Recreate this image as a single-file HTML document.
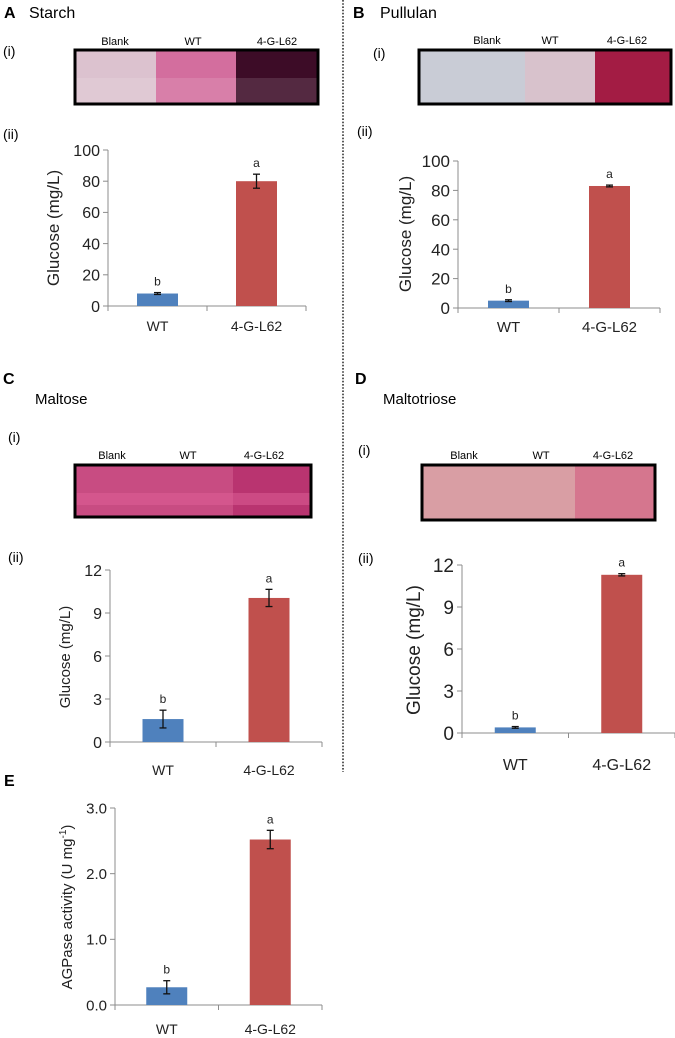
<!DOCTYPE html>
<html><head><meta charset="utf-8"><style>
html,body{margin:0;padding:0;background:#fff;}
svg{display:block;font-family:"Liberation Sans",sans-serif;}
</style></head><body>
<svg id="fig" width="675" height="1038" viewBox="0 0 675 1038" xmlns="http://www.w3.org/2000/svg">
<line x1="343" y1="0" x2="343" y2="772" stroke="#333" stroke-width="1.6" stroke-dasharray="1.6,1.6"/>
<!-- Panel A -->
<text x="4" y="18" font-size="16" font-weight="bold">A</text>
<text x="29" y="18" font-size="16">Starch</text>
<text x="3" y="56" font-size="14">(i)</text>
<text x="3" y="139" font-size="14">(ii)</text>
<g>
<text x="115" y="45" font-size="11" text-anchor="middle">Blank</text>
<text x="193" y="45" font-size="11" text-anchor="middle">WT</text>
<text x="277" y="45" font-size="11" text-anchor="middle">4-G-L62</text>
<rect x="75" y="50" width="81" height="54" fill="#dcc2cf"/>
<rect x="156" y="50" width="80" height="54" fill="#d36e9e"/>
<rect x="236" y="50" width="82" height="54" fill="#3d0c27"/>
<rect x="75" y="78" width="243" height="26" fill="#fff" opacity="0.12"/>
<rect x="75" y="50" width="243" height="54" fill="none" stroke="#000" stroke-width="3"/>
</g>
<!-- Panel B -->
<text x="353" y="18" font-size="16" font-weight="bold">B</text>
<text x="380" y="18" font-size="16">Pullulan</text>
<text x="373" y="58" font-size="14">(i)</text>
<text x="357" y="136" font-size="14">(ii)</text>
<g>
<text x="487" y="44" font-size="11" text-anchor="middle">Blank</text>
<text x="550" y="44" font-size="11" text-anchor="middle">WT</text>
<text x="627" y="44" font-size="11" text-anchor="middle">4-G-L62</text>
<rect x="419" y="50" width="106" height="54" fill="#c9ccd6"/>
<rect x="525" y="50" width="70" height="54" fill="#d8c2cc"/>
<rect x="595" y="50" width="76" height="54" fill="#a31c44"/>
<rect x="419" y="50" width="252" height="54" fill="none" stroke="#000" stroke-width="3"/>
</g>
<!-- Panel C -->
<text x="3" y="384" font-size="16" font-weight="bold">C</text>
<text x="35" y="404" font-size="15">Maltose</text>
<text x="8" y="442" font-size="14">(i)</text>
<text x="8" y="562" font-size="14">(ii)</text>
<g>
<text x="112" y="459" font-size="11" text-anchor="middle">Blank</text>
<text x="188" y="459" font-size="11" text-anchor="middle">WT</text>
<text x="264" y="459" font-size="11" text-anchor="middle">4-G-L62</text>
<rect x="75" y="465" width="236" height="52" fill="#c84c82"/>
<rect x="233" y="465" width="78" height="52" fill="#b93470"/>
<rect x="75" y="493" width="236" height="12" fill="#e06098" opacity="0.5"/>
<rect x="75" y="465" width="236" height="52" fill="none" stroke="#000" stroke-width="3"/>
</g>
<!-- Panel D -->
<text x="355" y="384" font-size="16" font-weight="bold">D</text>
<text x="383" y="404" font-size="15">Maltotriose</text>
<text x="358" y="455" font-size="14">(i)</text>
<text x="358" y="563" font-size="14">(ii)</text>
<g>
<text x="464" y="459" font-size="11" text-anchor="middle">Blank</text>
<text x="541" y="459" font-size="11" text-anchor="middle">WT</text>
<text x="613" y="459" font-size="11" text-anchor="middle">4-G-L62</text>
<rect x="422" y="465" width="233" height="55" fill="#d99ea4"/>
<rect x="575" y="465" width="80" height="55" fill="#d5768e"/>
<rect x="422" y="465" width="233" height="55" fill="none" stroke="#000" stroke-width="3"/>
</g>
<!-- Panel E -->
<text x="4" y="786" font-size="16" font-weight="bold">E</text>
<g id="charts"></g>
</svg>
<script>
const categories = ["WT", "4-G-L62"];
const starchValues = [8, 80];
const starchErrors = [0.6, 4.5];
const pullulanValues = [5, 83];
const pullulanErrors = [0.6, 0.6];
const maltoseValues = [1.6, 10.05];
const maltoseErrors = [0.62, 0.6];
const maltotrioseValues = [0.4, 11.3];
const maltotrioseErrors = [0.06, 0.08];
const agpaseValues = [0.27, 2.52];
const agpaseErrors = [0.1, 0.14];
const sigLetters = ["b", "a"];
const glucoseTicksLarge = [0, 20, 40, 60, 80, 100];
const glucoseTicksSmall = [0, 3, 6, 9, 12];
const agpaseTicks = [0, 1, 2, 3];

const NS = "http://www.w3.org/2000/svg";
const root = document.getElementById("charts");
function mk(tag, attrs, parent) {
  const e = document.createElementNS(NS, tag);
  for (const k in attrs) e.setAttribute(k, attrs[k]);
  (parent || root).appendChild(e);
  return e;
}
function chart(cfg) {
  const g = mk("g", {});
  
  
  const ymax = cfg.ticks[cfg.ticks.length - 1];
  const yS = v => cfg.y0 - (v / ymax) * (cfg.y0 - cfg.yTop);
  const band = (cfg.xEnd - cfg.x0) / categories.length;
  const xC = i => cfg.x0 + (i + 0.5) * band;
  const bw = 41;
  const ax = mk("line", {x1: cfg.x0, y1: cfg.yTop, x2: cfg.x0, y2: cfg.y0, stroke: "#8c8c8c", "stroke-width": 1}, g);
  
  
  const bx = mk("line", {x1: cfg.x0, y1: cfg.y0, x2: cfg.xEnd, y2: cfg.y0, stroke: "#8c8c8c", "stroke-width": 1}, g);
  
  
  for (let i = 0; i <= categories.length; i++) {
    const tx = cfg.x0 + i * band;
    mk("line", {x1: tx, y1: cfg.y0, x2: tx, y2: cfg.y0 + 5, stroke: "#8c8c8c"}, g);
  }
  cfg.ticks.forEach(t => {
    const y = yS(t);
    mk("line", {x1: cfg.x0 - 5, y1: y, x2: cfg.x0, y2: y, stroke: "#8c8c8c"}, g);
    const tl = mk("text", {x: cfg.x0 - 8, y: y + cfg.fs * 0.36, "font-size": cfg.fs, "text-anchor": "end", fill: "#222"}, g);
    tl.textContent = cfg.fmt ? t.toFixed(1) : String(t);
    
    
  });
  categories.forEach((c, i) => {
    const v = cfg.values[i], e = cfg.errors[i];
    const r = mk("rect", {x: xC(i) - bw / 2, y: yS(v), width: bw, height: cfg.y0 - yS(v), fill: i === 0 ? "#4f81bd" : "#c0504d"}, g);
    
    
    const top = yS(v + e), bot = yS(v - e);
    const eg = mk("g", {stroke: "#111", "stroke-width": 1.3}, g);
    
    
    mk("line", {x1: xC(i), y1: top, x2: xC(i), y2: bot}, eg);
    mk("line", {x1: xC(i) - 3.5, y1: top, x2: xC(i) + 3.5, y2: top}, eg);
    mk("line", {x1: xC(i) - 3.5, y1: bot, x2: xC(i) + 3.5, y2: bot}, eg);
    const s = mk("text", {x: xC(i), y: top - 7, "font-size": 12, "text-anchor": "middle", fill: "#222"}, g);
    s.textContent = sigLetters[i];
    
    
    const xl = mk("text", {x: xC(i), y: cfg.labY, "font-size": cfg.xfs || 14, "text-anchor": "middle", fill: "#222"}, g);
    xl.textContent = c;
    
    
  });
  const tt = mk("text", {x: 0, y: 0, "font-size": cfg.tfs, "text-anchor": "middle", fill: "#222", transform: "translate(" + cfg.tx + "," + cfg.ty + ") rotate(-90)"}, g);
  
  
  if (cfg.sup) {
    tt.appendChild(document.createTextNode("AGPase  activity (U mg"));
    const sp = mk("tspan", {"font-size": 10, dy: -6}, tt);
    sp.textContent = "-1";
    const sp2 = mk("tspan", {dy: 6}, tt);
    sp2.textContent = ")";
  } else {
    tt.textContent = "Glucose (mg/L)";
  }
}
chart({name: "starch-chart", x0: 108, xEnd: 306, yTop: 150, y0: 306, ticks: glucoseTicksLarge, values: starchValues, errors: starchErrors, fs: 16, tfs: 17, tx: 59, ty: 228, labY: 331});
chart({name: "pullulan-chart", x0: 458, xEnd: 660, yTop: 161, y0: 308, ticks: glucoseTicksLarge, values: pullulanValues, errors: pullulanErrors, fs: 17, tfs: 17, tx: 411, ty: 234, labY: 332, xfs: 15});
chart({name: "maltose-chart", x0: 110, xEnd: 322, yTop: 570, y0: 742, ticks: glucoseTicksSmall, values: maltoseValues, errors: maltoseErrors, fs: 16, tfs: 15, tx: 70, ty: 657, labY: 775});
chart({name: "maltotriose-chart", x0: 462, xEnd: 675, yTop: 565, y0: 733, ticks: glucoseTicksSmall, values: maltotrioseValues, errors: maltotrioseErrors, fs: 19, tfs: 19, tx: 420, ty: 650, labY: 770, xfs: 16});
chart({name: "agpase-chart", x0: 115, xEnd: 322, yTop: 808, y0: 1005, ticks: agpaseTicks, values: agpaseValues, errors: agpaseErrors, fs: 15, tfs: 15, tx: 72, ty: 907, labY: 1034, fmt: true, sup: true});
</script>
</body></html>
